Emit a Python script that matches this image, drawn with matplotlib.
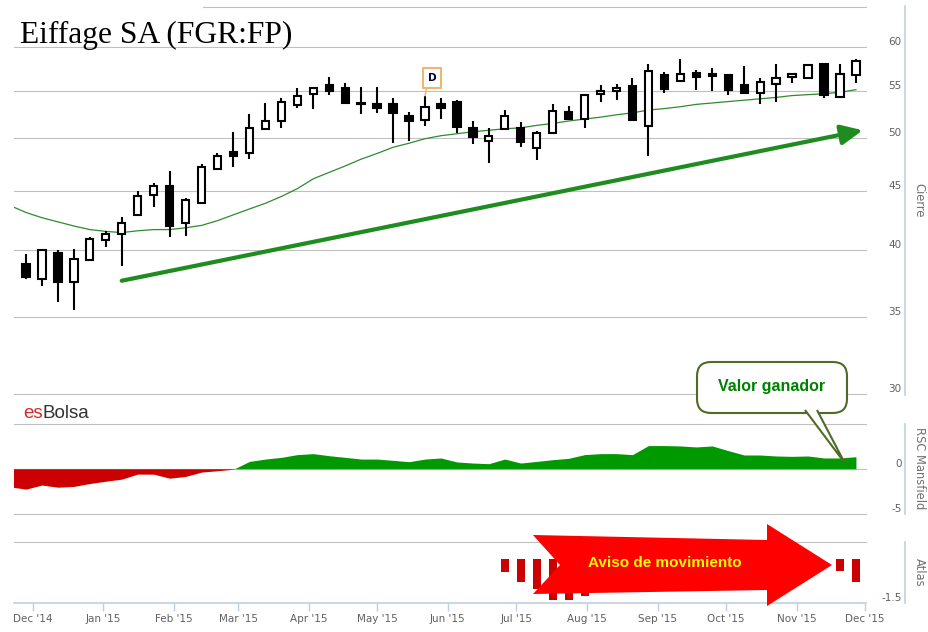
import matplotlib
matplotlib.use('Agg')
import matplotlib.pyplot as plt
import matplotlib.dates as mdates
import matplotlib.transforms as mtransforms
from matplotlib.patches import Rectangle, Polygon, FancyBboxPatch
import pandas as pd

W, H = 929, 632

# velas semanales (apertura, maximo, minimo, cierre)
candle_dates = pd.date_range('2014-11-28', periods=53, freq='7D')
opens = [38.9, 37.75, 39.75, 37.5, 39.2, 40.8, 41.25, 42.9, 44.6, 45.4,
         42.2, 43.9, 47.0, 48.65, 48.55, 50.9, 51.7, 53.4, 54.6, 55.6,
         55.25, 53.7, 53.55, 53.5, 52.3, 51.85, 53.5, 53.75, 51.0, 49.75,
         50.9, 51.05, 49.05, 50.55, 52.65, 51.95, 54.6, 54.9, 55.5, 51.2,
         56.7, 56.1, 57.0, 56.8, 56.7, 55.6, 54.75, 55.7, 56.55, 56.45,
         57.95, 54.3, 56.7]
highs = [39.65, 40.0, 39.95, 40.05, 41.05, 41.5, 42.7, 45.0, 45.7, 46.8,
         44.35, 47.45, 48.5, 50.65, 52.5, 53.7, 54.15, 55.25, 55.4, 56.5,
         55.8, 55.35, 55.35, 54.15, 52.7, 54.4, 54.15, 54.0, 51.7, 51.05,
         52.95, 51.6, 50.7, 53.55, 53.3, 54.5, 55.6, 55.7, 56.4, 57.95,
         57.1, 58.55, 57.3, 57.5, 56.9, 57.75, 56.45, 58.0, 57.0, 57.95,
         58.0, 57.95, 58.55]
lows = [37.7, 37.2, 36.0, 35.45, 39.2, 40.25, 38.75, 42.9, 43.6, 41.05,
        41.15, 43.9, 47.0, 47.2, 48.0, 50.9, 51.0, 53.1, 53.0, 54.5,
        53.55, 52.45, 52.6, 49.55, 49.7, 51.25, 51.95, 50.55, 49.4, 47.6,
        50.9, 49.15, 47.85, 50.55, 52.0, 51.05, 53.8, 53.95, 51.9, 48.3,
        54.75, 56.1, 55.1, 54.95, 54.5, 54.6, 53.5, 53.8, 55.8, 56.3,
        54.15, 54.2, 55.8]
closes = [37.85, 40.0, 37.5, 39.25, 40.9, 41.25, 42.2, 44.5, 45.45, 41.95,
          44.15, 47.2, 48.3, 48.3, 51.05, 51.7, 53.8, 54.45, 55.3, 54.95,
          53.6, 53.5, 53.15, 52.55, 51.7, 53.2, 53.15, 51.15, 50.15, 50.25,
          52.3, 49.6, 50.5, 52.75, 52.0, 54.5, 54.9, 55.3, 51.9, 57.2,
          55.2, 56.9, 56.55, 56.65, 55.05, 54.75, 55.9, 56.45, 56.8, 57.85,
          54.55, 56.8, 58.4]

# media movil y RSC Mansfield (una semana antes de la primera vela)
line_dates = pd.date_range('2014-11-21', periods=54, freq='7D')
ma = [43.7, 43.1, 42.65, 42.3, 41.95, 41.65, 41.5, 41.4, 41.55, 41.65,
      41.65, 41.8, 42.0, 42.4, 42.9, 43.4, 43.9, 44.5, 45.2, 46.1,
      46.7, 47.3, 47.95, 48.5, 49.1, 49.5, 49.95, 50.25, 50.45, 50.65,
      50.8, 50.95, 51.05, 51.3, 51.5, 51.75, 51.95, 52.15, 52.4, 52.6,
      52.9, 53.05, 53.25, 53.5, 53.65, 53.8, 53.95, 54.1, 54.25, 54.45,
      54.55, 54.65, 54.8, 55.1]
rsc = [-2.0, -2.25, -1.8, -2.04, -1.95, -1.63, -1.38, -1.15, -0.59, -0.6,
       -1.04, -0.85, -0.37, -0.22, -0.05, 0.81, 1.07, 1.26, 1.56, 1.67,
       1.44, 1.26, 1.07, 1.07, 0.93, 0.78, 1.07, 1.19, 0.75, 0.63,
       0.56, 1.07, 0.63, 0.81, 1.0, 1.15, 1.56, 1.67, 1.67, 1.56,
       2.56, 2.56, 2.52, 2.41, 2.52, 2.0, 1.52, 1.52, 1.41, 1.37,
       1.41, 1.19, 1.19, 1.33]

# Atlas
atlas_idx = [30, 31, 32, 33, 34, 35, 51, 52]
atlas_vals = [-0.73, -0.98, -1.16, -1.43, -1.43, -1.33, -0.71, -0.98]
atlas_base = -0.42

# linea de tendencia y anotaciones
trend_start = ('2015-01-09', 37.6)
trend_end = ('2015-11-30', 50.8)
flag_idx = 25
callout_point = ('2015-11-22', 0.67)

price_ticks = [30, 35, 40, 45, 50, 55, 60, 65]
price_labels = ['30', '35', '40', '45', '50', '55', '60', '']
rsc_ticks = [-5, 0, 5]
rsc_labels = ['-5', '0', '']
atlas_ticks = [-1.5, 0]
atlas_labels = ['-1.5', '']

GRID = '#c0c0c0'
AXIS = '#c0d0e0'
LABEL = '#606060'
TITLE = '#707070'

fig = plt.figure(figsize=(W / 100, H / 100), dpi=100)
plt.rcParams['font.family'] = 'DejaVu Sans'

# coordenadas en pixeles de la imagen (origen arriba a la izquierda)
to_px = (mtransforms.Affine2D().scale(1, -1).translate(0, H).scale(1 / 100.)
         + fig.dpi_scale_trans)


def box(top, bottom):
    return [14 / W, 1 - bottom / H, (866 - 14) / W, (bottom - top) / H]


ax = fig.add_axes(box(6, 395))
ax_rsc = fig.add_axes(box(423.5, 514))
ax_at = fig.add_axes(box(542, 603))

xmin = mdates.date2num(pd.Timestamp('2014-11-22 18:00'))
xmax = mdates.date2num(pd.Timestamp('2015-12-01 10:00'))

for a, ticks, labels in [(ax, price_ticks, price_labels),
                         (ax_rsc, rsc_ticks, rsc_labels),
                         (ax_at, atlas_ticks, atlas_labels)]:
    a.set_facecolor('none')
    a.set_xlim(xmin, xmax)
    for s in ['top', 'left', 'bottom']:
        a.spines[s].set_visible(False)
    a.spines['right'].set_position(('outward', 28))
    a.spines['right'].set_color(AXIS)
    a.spines['right'].set_linewidth(1.2)
    a.yaxis.tick_right()
    a.set_yticks(ticks)
    a.set_yticklabels(labels)
    a.yaxis.set_minor_locator(plt.NullLocator())
    a.tick_params(axis='y', which='both', length=0, pad=-2.5,
                  labelsize=7.5, labelcolor=LABEL)
    plt.setp(a.get_yticklabels(), ha='right', va='bottom')
    a.tick_params(axis='x', which='both', bottom=False, labelbottom=False)

# panel principal (escala logaritmica)
ax.set_yscale('log')
ax.set_yticks(price_ticks)
ax.set_yticklabels(price_labels)
ax.yaxis.set_minor_locator(plt.NullLocator())
ax.yaxis.set_minor_formatter(plt.NullFormatter())
plt.setp(ax.get_yticklabels(), ha='right', va='bottom')
ax.set_ylim(29.92, 65.13)
for v in price_ticks:
    xm = (203 - 14) / 852 if v == 65 else 0
    ax.axhline(v, xmin=xm, color=GRID, lw=0.8, zorder=0, clip_on=False)

x = mdates.date2num(candle_dates)
w = 3.2
for xi, o, hi, lo, c in zip(x, opens, highs, lows, closes):
    ax.vlines(xi, lo, hi, color='black', lw=1.5, zorder=2)
    fc = 'white' if c >= o else 'black'
    ax.add_patch(Rectangle((xi - w / 2, min(o, c)), w, abs(c - o),
                           facecolor=fc, edgecolor='black', lw=1.5, zorder=3))

ax.plot(mdates.date2num(line_dates), ma, color='#2f8a2f', lw=0.9, zorder=1)

ax.annotate('', xy=(mdates.date2num(pd.Timestamp(trend_end[0])), trend_end[1]),
            xytext=(mdates.date2num(pd.Timestamp(trend_start[0])), trend_start[1]),
            arrowprops=dict(arrowstyle='-|>,head_length=0.65,head_width=0.3',
                            color='#1f8c1f', lw=3, mutation_scale=20,
                            shrinkA=0, shrinkB=0), zorder=4)

ax.annotate('D', xy=(x[flag_idx], highs[flag_idx]), xytext=(5, 13),
            textcoords='offset points', ha='center', va='center',
            fontsize=7.5, fontweight='bold', color='#000033',
            bbox=dict(boxstyle='square,pad=0.45', fc='white', ec='#f0b060', lw=1.3),
            arrowprops=dict(arrowstyle='-', color='#f0b060', lw=1,
                            shrinkA=0, shrinkB=0, relpos=(0, 0)), zorder=5)

# RSC Mansfield
ax_rsc.set_ylim(-5, 5)
for v in rsc_ticks:
    ax_rsc.axhline(v, color=GRID, lw=0.8, zorder=0, clip_on=False)
lx = mdates.date2num(line_dates)
ax_rsc.fill_between(lx, rsc, 0, where=[r >= 0 for r in rsc], interpolate=True,
                    color='#009900', lw=0, zorder=1)
ax_rsc.fill_between(lx, rsc, 0, where=[r <= 0 for r in rsc], interpolate=True,
                    color='#cc0000', lw=0, zorder=1)

# Atlas
ax_at.set_ylim(-1.5, 0)
ax_at.axhline(0, color=GRID, lw=0.8, zorder=0, clip_on=False)
ax_at.bar(x[atlas_idx], [v - atlas_base for v in atlas_vals], bottom=atlas_base,
          width=3.5, color='#cc0000', zorder=2)
ax_at.spines['bottom'].set_visible(True)
ax_at.spines['bottom'].set_color(AXIS)
ax_at.spines['bottom'].set_linewidth(1.2)
ax_at.xaxis.set_major_locator(mdates.MonthLocator())
ax_at.xaxis.set_major_formatter(mdates.DateFormatter("%b '%y"))
ax_at.tick_params(axis='x', bottom=True, labelbottom=True, length=6,
                  width=1, color=AXIS, pad=2, labelsize=7.5, labelcolor=LABEL)

# titulos de ejes
for txt, yc in [('Cierre', 200), ('RSC Mansfield', 468), ('Atlas', 572)]:
    fig.text(919, yc, txt, transform=to_px, rotation=270, ha='center',
             va='center', fontsize=8.3, color=TITLE)

fig.text(20, 43, 'Eiffage SA (FGR:FP)', transform=to_px, family='Liberation Serif',
         fontsize=22.7, va='baseline', color='black')
fig.text(23, 418, 'es', transform=to_px, family='Liberation Sans', fontsize=13.5,
         va='baseline', color='#d42a2a')
fig.text(42.5, 418, 'Bolsa', transform=to_px, family='Liberation Sans',
         fontsize=13.5, va='baseline', color='#333333')

# bocadillo "Valor ganador"
olive = '#4f6b24'
fig.add_artist(FancyBboxPatch((697, 362), 150, 51, transform=to_px,
                              boxstyle='round,pad=0,rounding_size=14',
                              fc='white', ec=olive, lw=1.5, zorder=5))
tip = to_px.inverted().transform(ax_rsc.transData.transform(
    (mdates.date2num(pd.Timestamp(callout_point[0])), callout_point[1])))
fig.add_artist(Polygon([(805, 410), tuple(tip), (817, 410)], closed=False,
                       transform=to_px, fc='white', ec=olive, lw=1.5, zorder=6))
fig.text(772, 387, 'Valor ganador', transform=to_px, family='Liberation Sans',
         fontsize=11.5, fontweight='bold', color='#008000', ha='center',
         va='center', zorder=7)

# flecha roja "Aviso de movimiento"
fig.add_artist(Polygon([(533, 535), (767, 540), (767, 524), (832, 565),
                        (767, 606), (767, 590), (533, 594), (560, 565)],
                       closed=True, transform=to_px, fc='#ff0000', ec='none',
                       zorder=5))
fig.text(665, 563, 'Aviso de movimiento', transform=to_px, family='Liberation Sans',
         fontsize=11, fontweight='bold', color='#ffff00', ha='center',
         va='center', zorder=7)

fig.savefig('out.png', dpi=100)
